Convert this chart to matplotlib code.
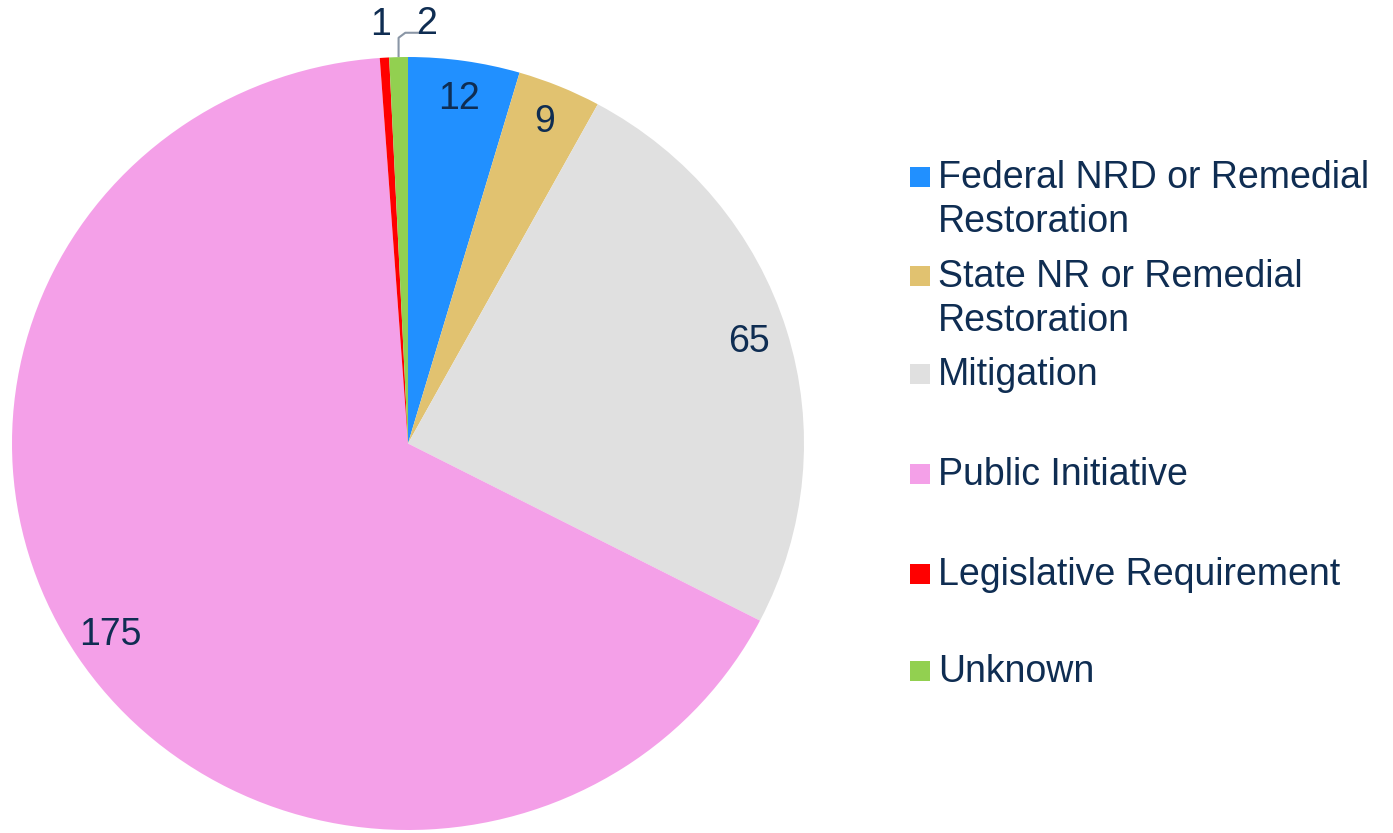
import numpy as np
import matplotlib
matplotlib.use("Agg")
import matplotlib.pyplot as plt
from matplotlib.patches import Rectangle

plt.rcParams['font.family'] = ['Liberation Sans', 'DejaVu Sans']

categories = ["Federal NRD or Remedial\nRestoration",
              "State NR or Remedial\nRestoration",
              "Mitigation",
              "Public Initiative",
              "Legislative Requirement",
              "Unknown"]
values = [12, 9, 65, 175, 1, 2]
colors = ["#2190FF", "#E1C270", "#E0E0E0", "#F4A0E8", "#FF0000", "#92D050"]

TEXT = "#0f2d52"
W, H = 1393, 833
fig = plt.figure(figsize=(W / 100, H / 100), dpi=100)

def fx(px):
    return px / W

def fy(py):
    return 1 - py / H

# pie axes (pixel box)
left, right, top, bottom = 12, 804, 57, 830
ax = fig.add_axes([fx(left), fy(bottom), fx(right - left), (bottom - top) / H])
ax.pie(values, colors=colors, startangle=90, counterclock=False,
       wedgeprops=dict(linewidth=0), radius=1.0)
ax.set_xlim(-1, 1)
ax.set_ylim(-1, 1)
ax.set_aspect('auto')
ax.axis('off')

# value labels
total = float(sum(values))
cum = np.cumsum([0] + values)
mids = (cum[:-1] + cum[1:]) / 2 / total * 2 * np.pi  # clockwise from top
fs = 27
for i, (v, a) in enumerate(zip(values, mids)):
    if v >= 5:
        r = 0.9
        ax.text(r * np.sin(a), r * np.cos(a), str(v), ha='center', va='center',
                fontsize=fs, color=TEXT)
# small slices: outside labels
a1 = mids[4]
ax.text(1.08 * np.sin(a1) - 0.005, 1.08 * np.cos(a1) + 0.005, str(values[4]),
        ha='center', va='center', fontsize=fs, color=TEXT, clip_on=False)
a2 = mids[5]
ex, ey = np.sin(a2), np.cos(a2)
ax.plot([ex, ex, ex + 0.017, ex + 0.055], [ey, ey + 0.05, ey + 0.063, ey + 0.063],
        color="#8a96a6", lw=1.5, clip_on=False, solid_capstyle='butt')
ax.text(ex + 0.07, 1.08 * np.cos(a2) + 0.005, str(values[5]),
        ha='center', va='center', fontsize=fs, color=TEXT, clip_on=False)

# legend drawn manually
first_baselines = [188, 287, 385, 485, 585, 682]
line_gap = 44
for lab, col, bl in zip(categories, colors, first_baselines):
    sq_c = bl - 11
    fig.add_artist(Rectangle((fx(910), fy(sq_c + 10)), fx(20), 20 / H,
                             transform=fig.transFigure, facecolor=col,
                             edgecolor='none'))
    for j, line in enumerate(lab.split("\n")):
        fig.text(fx(938), fy(bl + j * line_gap), line, ha='left', va='baseline',
                 fontsize=fs, color=TEXT)

fig.savefig("out.png", dpi=100, facecolor='white')
